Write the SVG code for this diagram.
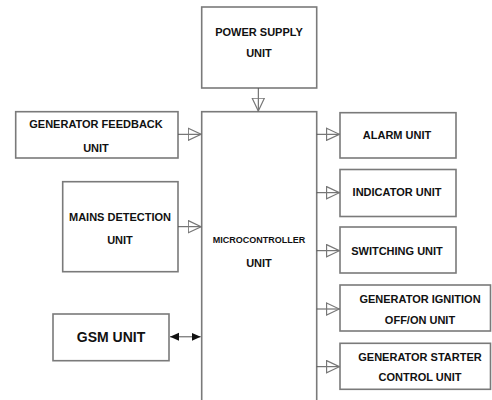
<svg xmlns="http://www.w3.org/2000/svg" width="492" height="400" viewBox="0 0 492 400">
<defs>
<style>
.box{fill:#fff;stroke:#7a7a7a;stroke-width:1.6}
.t{font-family:"Liberation Sans",Arial,sans-serif;font-weight:bold;font-size:11px;fill:#111;text-anchor:middle;dominant-baseline:central}
.conn{stroke:#555;stroke-width:1;fill:none}
</style>
<marker id="open" markerUnits="userSpaceOnUse" markerWidth="14" markerHeight="14" viewBox="0 0 12 12" refX="12" refY="6" orient="auto">
<path d="M0.5,0.8 L11.5,6 L0.5,11.2 Z" fill="none" stroke="#777" stroke-width="1"/>
</marker>
<marker id="solid" markerUnits="userSpaceOnUse" markerWidth="9" markerHeight="9" viewBox="0 0 9 9" refX="9" refY="4.5" orient="auto-start-reverse">
<path d="M0,0.5 L9,4.5 L0,8.5 Z" fill="#111"/>
</marker>
</defs>
<rect width="492" height="400" fill="#fff"/>
<g id="power"><rect class="box" x="201.7" y="7" width="115" height="81"/><text class="t" x="259" y="31.5">POWER SUPPLY</text><text class="t" x="259" y="53">UNIT</text></g>
<g id="micro"><rect class="box" x="201.7" y="111.7" width="115" height="295"/><text class="t" x="259" y="240" style="font-size:9px">MICROCONTROLLER</text><text class="t" x="259" y="263">UNIT</text></g>
<g id="feedback"><rect class="box" x="15.7" y="111.7" width="162.3" height="46.3"/><text class="t" x="96" y="124">GENERATOR FEEDBACK</text><text class="t" x="96" y="148">UNIT</text></g>
<g id="mains"><rect class="box" x="62.7" y="181.7" width="115.3" height="90"/><text class="t" x="120" y="216.5">MAINS DETECTION</text><text class="t" x="120" y="240">UNIT</text></g>
<g id="gsm"><rect class="box" x="53" y="314" width="116" height="46.7"/><text class="t" x="111" y="337" style="font-size:14px">GSM UNIT</text></g>
<g id="alarm"><rect class="box" x="340" y="112.7" width="116" height="45.3"/><text class="t" x="397" y="135">ALARM UNIT</text></g>
<g id="indicator"><rect class="box" x="340" y="169.5" width="116" height="47"/><text class="t" x="397" y="192">INDICATOR UNIT</text></g>
<g id="switching"><rect class="box" x="340" y="227" width="116" height="46"/><text class="t" x="397" y="250.5">SWITCHING UNIT</text></g>
<g id="ignition"><rect class="box" x="340" y="285" width="150.5" height="46"/><text class="t" x="420" y="298.5">GENERATOR IGNITION</text><text class="t" x="420" y="320">OFF/ON UNIT</text></g>
<g id="starter"><rect class="box" x="340" y="343.3" width="150.5" height="46"/><text class="t" x="420" y="356.5">GENERATOR STARTER</text><text class="t" x="420" y="377">CONTROL UNIT</text></g>
<g id="connectors">
<line class="conn" x1="258.3" y1="88" x2="258.3" y2="111.7" marker-end="url(#open)"/>
<line class="conn" x1="178" y1="134.3" x2="201.7" y2="134.3" marker-end="url(#open)"/>
<line class="conn" x1="178" y1="226.7" x2="201.7" y2="226.7" marker-end="url(#open)"/>
<line class="conn" x1="170" y1="336.8" x2="200.7" y2="336.8" stroke="#111" marker-start="url(#solid)" marker-end="url(#solid)"/>
<line class="conn" x1="316.7" y1="134.3" x2="340" y2="134.3" marker-end="url(#open)"/>
<line class="conn" x1="316.7" y1="192.7" x2="340" y2="192.7" marker-end="url(#open)"/>
<line class="conn" x1="316.7" y1="250.7" x2="340" y2="250.7" marker-end="url(#open)"/>
<line class="conn" x1="316.7" y1="309" x2="340" y2="309" marker-end="url(#open)"/>
<line class="conn" x1="316.7" y1="366.7" x2="340" y2="366.7" marker-end="url(#open)"/>
</g>
</svg>
